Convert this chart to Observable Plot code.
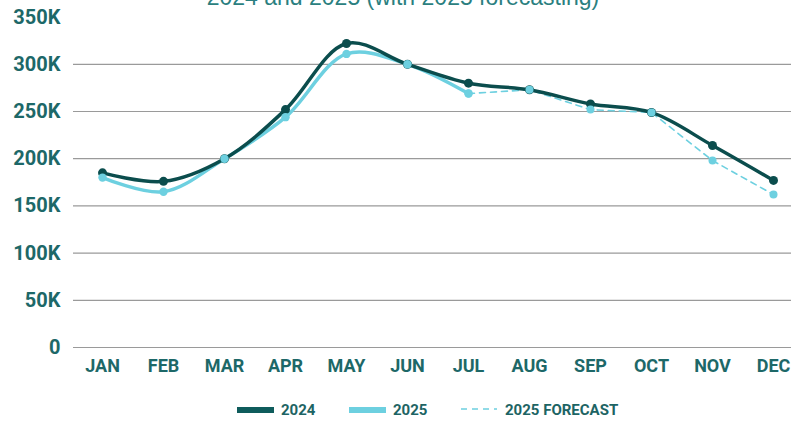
<!DOCTYPE html>
<html>
<head>
<meta charset="utf-8">
<script src="https://cdn.jsdelivr.net/npm/d3@7"></script>
<script src="https://cdn.jsdelivr.net/npm/@observablehq/plot@0.6"></script>
<style>
  html, body { margin: 0; padding: 0; background: #fff; }
  #wrap { position: relative; width: 806px; height: 421px; overflow: hidden; font-family: Roboto, "Liberation Sans", sans-serif; }
  #title { position: absolute; left: 0; width: 806px; top: -16px; text-align: center; font-family: "Liberation Sans", Arial, sans-serif; font-size: 23px; line-height: 26px; color: #2b7f80; white-space: nowrap; }
  #chart { position: absolute; left: 0; top: 0; }
  .leg { position: absolute; top: 401px; font-weight: 700; font-size: 15px; color: #1d6464; line-height: 18px; }
  .sw { position: absolute; }
</style>
</head>
<body>
<div id="wrap">
  <div id="chart"></div>
  <div id="title">2024 and 2025 (with 2025 forecasting)</div>
  <div class="sw" style="left:237px; top:407px; width:37px; height:6px; background:#0f5c5c;"></div>
  <div class="leg" style="left:281px;">2024</div>
  <div class="sw" style="left:349px; top:407px; width:37px; height:6px; background:#6dd0e0;"></div>
  <div class="leg" style="left:393px;">2025</div>
  <svg class="sw" style="left:461px; top:406px;" width="36" height="6"><line x1="0" y1="3" x2="36" y2="3" stroke="#6dd0e0" stroke-width="1.6" stroke-dasharray="6,5"/></svg>
  <div class="leg" style="left:505px;">2025 FORECAST</div>
</div>
<script>
const months = ["JAN","FEB","MAR","APR","MAY","JUN","JUL","AUG","SEP","OCT","NOV","DEC"];
const sales2024 = [185000, 176000, 200000, 252000, 322000, 300000, 280000, 273000, 258000, 249000, 214000, 177000];
const months2025 = ["JAN","FEB","MAR","APR","MAY","JUN","JUL"];
const sales2025 = [180000, 165000, 200000, 244000, 311000, 300000, 269000];
const monthsForecast = ["JUL","AUG","SEP","OCT","NOV","DEC"];
const forecast2025 = [269000, 273000, 252000, 249000, 198000, 162000];
const yTicks = [0, 50000, 100000, 150000, 200000, 250000, 300000, 350000];
const gridTicks = [0, 50000, 100000, 150000, 200000, 250000, 300000];

const d2024 = months.map((m, i) => ({month: m, value: sales2024[i]}));
const d2025 = months2025.map((m, i) => ({month: m, value: sales2025[i]}));
const dFc = monthsForecast.map((m, i) => ({month: m, value: forecast2025[i]}));

const dark = "#0b4d4d";
const light = "#6dd0e0";
const textCol = "#1d6868";

const fmt = v => v === 0 ? "0" : (v / 1000) + "K";

const chart = Plot.plot({
  width: 806,
  height: 390,
  marginLeft: 73,
  marginRight: 15,
  marginTop: 16,
  marginBottom: 43,
  style: {fontFamily: "Roboto, sans-serif", background: "transparent", overflow: "visible"},
  x: {type: "point", domain: months, range: [100, 775], padding: 0, label: null},
  y: {domain: [0, 350000], range: [347, 16.6], label: null},
  marks: [
    Plot.ruleY(gridTicks, {stroke: "#9a9a9a", strokeWidth: 1.2, strokeOpacity: 1}),
    Plot.axisY(yTicks, {tickFormat: fmt, tickSize: 0, tickPadding: 13, fontSize: 20, fontWeight: 700, fill: textCol, label: null, anchor: "left"}),
    Plot.axisX(months, {tickSize: 0, tickPadding: 12, fontSize: 18, fontWeight: 700, fill: textCol, label: null, anchor: "bottom"}),
    Plot.line(dFc, {x: "month", y: "value", stroke: light, strokeWidth: 1.6, strokeDasharray: "6,5"}),
    Plot.line(d2025, {x: "month", y: "value", stroke: light, strokeWidth: 3.5, curve: "catmull-rom"}),
    Plot.line(d2024, {x: "month", y: "value", stroke: dark, strokeWidth: 3.5, curve: "catmull-rom"}),
    Plot.dot(d2024, {x: "month", y: "value", r: 4.5, fill: dark, stroke: "none"}),
    Plot.dot(d2025, {x: "month", y: "value", r: 4.2, fill: light, stroke: "none"}),
    Plot.dot(dFc, {x: "month", y: "value", r: 4, fill: light, stroke: "none"})
  ]
});
document.getElementById("chart").appendChild(chart);
</script>
</body>
</html>
